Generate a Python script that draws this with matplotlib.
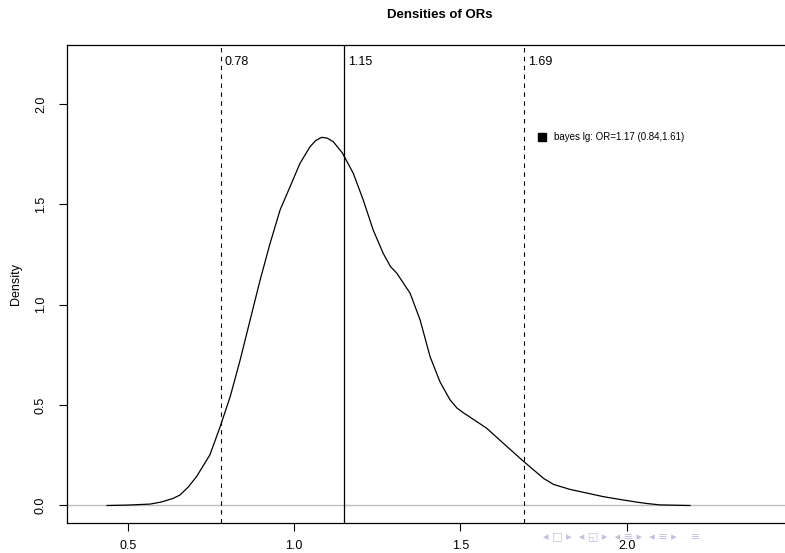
import matplotlib
matplotlib.use("Agg")
import matplotlib.pyplot as plt

# density curve
or_x = [0.438, 0.500, 0.567, 0.600, 0.636, 0.657, 0.682, 0.707, 0.747, 0.778,
        0.808, 0.838, 0.868, 0.898, 0.928, 0.958, 0.988, 1.018, 1.048, 1.065,
        1.083, 1.100, 1.118, 1.145, 1.178, 1.208, 1.238, 1.268, 1.290, 1.309,
        1.349, 1.379, 1.409, 1.439, 1.469, 1.490, 1.509, 1.529, 1.579, 1.629,
        1.685, 1.750, 1.780, 1.830, 1.880, 1.930, 1.980, 2.030, 2.060, 2.100,
        2.190]
dens_y = [0.000, 0.002, 0.007, 0.017, 0.035, 0.052, 0.092, 0.144, 0.252, 0.393,
          0.542, 0.725, 0.924, 1.123, 1.306, 1.472, 1.588, 1.705, 1.787, 1.818,
          1.834, 1.830, 1.812, 1.757, 1.655, 1.522, 1.372, 1.256, 1.190, 1.157,
          1.057, 0.924, 0.741, 0.615, 0.526, 0.485, 0.462, 0.440, 0.385, 0.310,
          0.227, 0.135, 0.105, 0.080, 0.062, 0.044, 0.030, 0.017, 0.010, 0.003,
          0.000]

ci_lo, or_mean, ci_hi = 0.78, 1.15, 1.69
line_labels = ["0.78", "1.15", "1.69"]
legend_text = "bayes lg: OR=1.17 (0.84,1.61)"
x_ticks = [0.5, 1.0, 1.5, 2.0]
y_ticks = [0.0, 0.5, 1.0, 1.5, 2.0]

plt.rcParams["font.family"] = ["Liberation Sans", "DejaVu Sans"]

fig = plt.figure(figsize=(7.85, 5.53), dpi=100)
ax = fig.add_axes([67 / 785, 30 / 553, 746 / 785, 478 / 553])

ax.axhline(0, color="#bebebe", lw=1.0, zorder=1)
ax.plot(or_x, dens_y, color="black", lw=0.9, zorder=2)

dash = (0, (4, 4))
ax.axvline(ci_lo, color="black", lw=0.8, linestyle=dash)
ax.axvline(or_mean, color="black", lw=0.9)
ax.axvline(ci_hi, color="black", lw=0.8, linestyle=dash)

for xv, lab in zip([ci_lo, or_mean, ci_hi], line_labels):
    ax.text(xv + 0.012, 2.21, lab, fontsize=9, ha="left", va="center")

# legend-like marker
ax.plot([1.744], [1.836], marker="s", color="black", markersize=5.5, linestyle="none")
ax.text(1.782, 1.836, legend_text, fontsize=7, ha="left", va="center")

ax.set_xlim(0.3175, 2.560)
ax.set_ylim(-0.0872, 2.294)
ax.set_xticks(x_ticks)
ax.set_xticklabels(["0.5", "1.0", "1.5", "2.0"])
ax.set_yticks(y_ticks)
ax.set_yticklabels(["0.0", "0.5", "1.0", "1.5", "2.0"], rotation=90, va="center")
ax.tick_params(axis="both", direction="out", length=5.5, width=0.8, labelsize=9)
ax.tick_params(axis="x", pad=7)
ax.tick_params(axis="y", pad=9)
for s in ax.spines.values():
    s.set_linewidth(0.9)

ax.set_ylabel("Density", fontsize=9, labelpad=9)

fig.text(440 / 785, 1 - 15 / 553, "Densities of ORs", fontsize=9.5,
         fontweight="bold", ha="center", va="center")

# beamer navigation symbols (faint, bottom right)
fig.text(543 / 785, 1 - 536 / 553, "◂ □ ▸  ◂ ◱ ▸  ◂ ≡ ▸  ◂ ≡ ▸    ≡",
         fontsize=8, color="#c0c0e0", ha="left", va="center",
         family=["DejaVu Sans"])

fig.savefig("out.png", dpi=100)
